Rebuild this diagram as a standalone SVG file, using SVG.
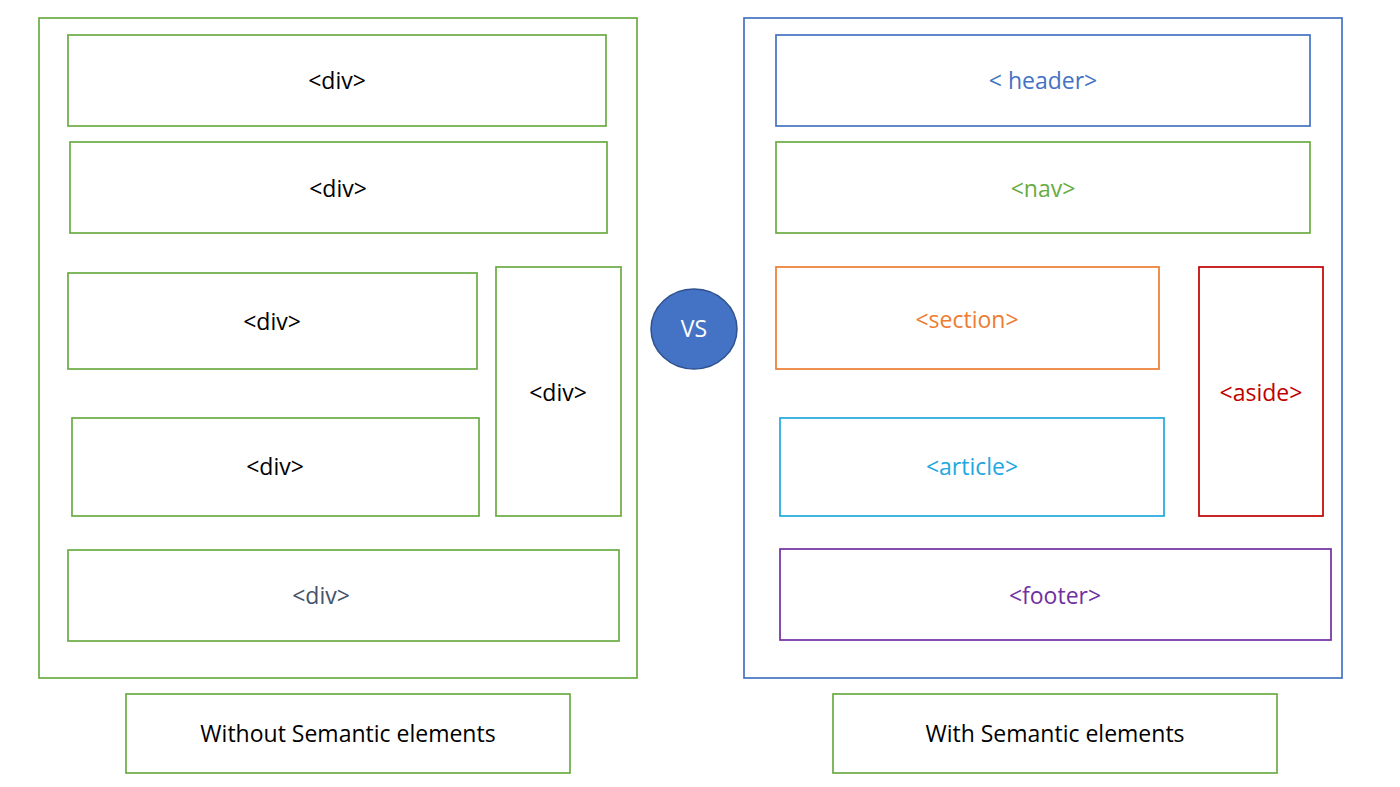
<svg xmlns="http://www.w3.org/2000/svg" width="1400" height="787" viewBox="0 0 1400 787">
<style>
.b{fill:#fff;stroke-width:1.7}
.g{stroke:#6aab43}
text{font-family:"Open Sans","Liberation Sans",sans-serif;font-size:23px;text-anchor:middle;dominant-baseline:central}
</style>
<rect width="1400" height="787" fill="#fff"/>
<g id="left-container"><rect class="b g" x="39" y="18" width="598" height="660"/></g>
<g id="div1"><rect class="b g" x="68" y="35" width="538" height="91"/><text x="337" y="80">&lt;div&gt;</text></g>
<g id="div2"><rect class="b g" x="70" y="142" width="537" height="91"/><text x="338" y="188">&lt;div&gt;</text></g>
<g id="div3"><rect class="b g" x="68" y="273" width="409" height="96"/><text x="272" y="321">&lt;div&gt;</text></g>
<g id="div4"><rect class="b g" x="72" y="418" width="407" height="98"/><text x="275" y="466">&lt;div&gt;</text></g>
<g id="div-tall"><rect class="b g" x="496" y="267" width="125" height="249"/><text x="558" y="392">&lt;div&gt;</text></g>
<g id="div5"><rect class="b g" x="68" y="550" width="551" height="91"/><text x="321" y="595" fill="#44546a">&lt;div&gt;</text></g>
<g id="label-left"><rect class="b g" x="126" y="694" width="444" height="79"/><text x="348" y="733">Without Semantic elements</text></g>
<g id="vs"><ellipse cx="694" cy="329" rx="43" ry="40" fill="#4472c4" stroke="#2f528f" stroke-width="1.5"/><text x="694" y="328" fill="#fff">VS</text></g>
<g id="right-container"><rect class="b" stroke="#4472c4" x="744" y="18" width="598" height="660"/></g>
<g id="header"><rect class="b" stroke="#4472c4" x="776" y="35" width="534" height="91"/><text x="1043" y="80" fill="#4472c4">&lt; header&gt;</text></g>
<g id="nav"><rect class="b g" x="776" y="142" width="534" height="91"/><text x="1043" y="188" fill="#6aab43">&lt;nav&gt;</text></g>
<g id="section"><rect class="b" stroke="#ed7d31" x="776" y="267" width="383" height="102"/><text x="967" y="319" fill="#ed7d31">&lt;section&gt;</text></g>
<g id="aside"><rect class="b" stroke="#c00000" x="1199" y="267" width="124" height="249"/><text x="1261" y="392" fill="#c00000">&lt;aside&gt;</text></g>
<g id="article"><rect class="b" stroke="#1fa8e0" x="780" y="418" width="384" height="98"/><text x="972" y="466" fill="#1fa8e0">&lt;article&gt;</text></g>
<g id="footer"><rect class="b" stroke="#7030a0" x="780" y="549" width="551" height="91"/><text x="1055" y="595" fill="#7030a0">&lt;footer&gt;</text></g>
<g id="label-right"><rect class="b g" x="833" y="694" width="444" height="79"/><text x="1055" y="733">With Semantic elements</text></g>
<g id="connectors"></g>
</svg>
